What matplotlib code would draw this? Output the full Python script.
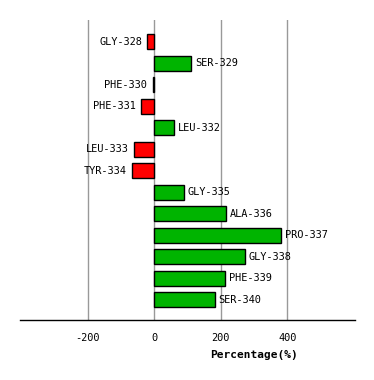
import matplotlib
matplotlib.use('Agg')
import matplotlib.pyplot as plt

residues = ['GLY-328', 'SER-329', 'PHE-330', 'PHE-331', 'LEU-332', 'LEU-333',
            'TYR-334', 'GLY-335', 'ALA-336', 'PRO-337', 'GLY-338', 'PHE-339',
            'SER-340']
percent = [-21, 112, -5, -39, 58, -60, -66, 88, 215, 380, 272, 212, 182]
x_ticks = [-200, 0, 200, 400]

plt.rcParams['font.family'] = 'DejaVu Sans Mono'

fig = plt.figure(figsize=(3.74, 3.80), dpi=100)
ax = fig.add_axes([20.3 / 374, 1 - 320.3 / 380, 334.4 / 374, 300.3 / 380])

pos = list(range(len(residues)))
colors = ['#ff0000' if v < 0 else '#00b400' for v in percent]
ax.barh(pos, percent, height=0.7, color=colors, edgecolor='black',
        linewidth=1.0, zorder=3)

# labels next to bar ends
for y, v, name in zip(pos, percent, residues):
    if v < 0:
        ax.text(v - 16, y, name, ha='right', va='center', fontsize=7.4, zorder=4)
    else:
        ax.text(v + 12, y, name, ha='left', va='center', fontsize=7.4, zorder=4)

ax.set_xlim(-403, 603)
ax.set_ylim(12.95, -1.0)
ax.set_xticks(x_ticks)
ax.set_xticklabels([str(t) for t in x_ticks], fontsize=7.4)
ax.set_yticks([])
ax.tick_params(axis='x', length=0, pad=9)
for t in x_ticks:
    ax.axvline(t, color='#999999', linewidth=1.0, zorder=1)
for side in ['left', 'right', 'top']:
    ax.spines[side].set_visible(False)
ax.spines['bottom'].set_linewidth(1.0)

fig.text(254 / 374, 1 - 355 / 380, 'Percentage(%)', ha='center', va='center',
         fontsize=8, fontweight='bold')

fig.savefig('out.png', dpi=100)
